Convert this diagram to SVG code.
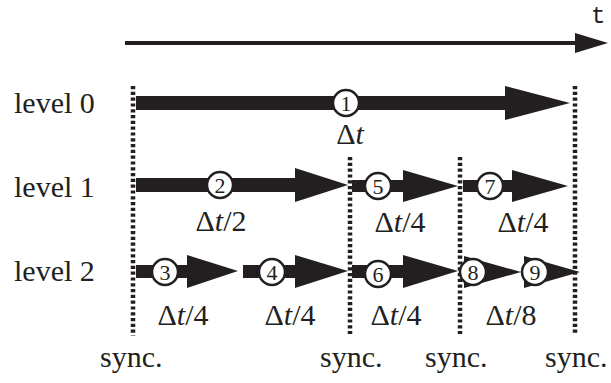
<svg xmlns="http://www.w3.org/2000/svg" width="611" height="383" viewBox="0 0 611 383">
<style>
.lbl{font-family:"Liberation Serif","Times New Roman",serif;font-size:30px;fill:#231f20}
.dt{font-family:"Liberation Serif","Times New Roman",serif;font-size:30px;fill:#231f20;text-anchor:middle}
.it{font-style:italic}
.num{font-family:"Liberation Serif","Times New Roman",serif;font-size:22px;fill:#231f20;text-anchor:middle}
.sync{stroke:#231f20;stroke-width:4.5;stroke-dasharray:3.2 2.6;fill:none}
.ar{fill:#231f20}
.c{fill:#fff;stroke:#231f20;stroke-width:2.5}
</style>
<rect width="611" height="383" fill="#fff"/>
<g id="axis">
<line x1="125" y1="43" x2="580" y2="43" stroke="#231f20" stroke-width="4"/>
<polygon class="ar" points="575,33 608,43 575,53"/>
<text x="591" y="23" style="font-family:'Liberation Mono','Courier New',monospace;font-size:24px;fill:#231f20">t</text>
</g>
<g id="sync-lines">
<line class="sync" x1="133" y1="86" x2="133" y2="336"/>
<line class="sync" x1="575" y1="86" x2="575" y2="334"/>
<line class="sync" x1="350" y1="157" x2="350" y2="334"/>
<line class="sync" x1="460" y1="157" x2="460" y2="334"/>
</g>
<g id="labels">
<text class="lbl" x="14" y="113">level 0</text>
<text class="lbl" x="14" y="197">level 1</text>
<text class="lbl" x="14" y="281">level 2</text>
<text class="lbl" x="100" y="367">sync.</text>
<text class="lbl" x="320" y="367">sync.</text>
<text class="lbl" x="425" y="367">sync.</text>
<text class="lbl" x="545" y="367">sync.</text>
</g>
<g id="connectors">
<polygon class="ar" points="136,96 505,96 505,86 570,103 505,120 505,110 136,110"/>
<polygon class="ar" points="136,178 295,178 295,168 348,185 295,202 295,192 136,192"/>
<polygon class="ar" points="352,180 403,180 403,170 458,186 403,202 403,192 352,192"/>
<polygon class="ar" points="463,180 512,180 512,170 568,186 512,202 512,192 463,192"/>
<polygon class="ar" points="136,265 187,265 187,255 238,271 187,288 187,278 136,278"/>
<polygon class="ar" points="243,265 295,265 295,255 348,271 295,288 295,278 243,278"/>
<polygon class="ar" points="352,265 403,265 403,255 458,271 403,288 403,278 352,278"/>
<polygon class="ar" points="464,256 521,272 464,288"/>
<polygon class="ar" points="524,256 580,272 524,288"/>
</g>
<g id="n1"><circle class="c" cx="346" cy="103" r="13"/><text class="num" x="346" y="111">1</text><text class="dt" x="350" y="144">Δ<tspan class="it">t</tspan></text></g>
<g id="n2"><circle class="c" cx="220" cy="185" r="13"/><text class="num" x="220" y="193">2</text><text class="dt" x="221" y="231">Δ<tspan class="it">t</tspan>/2</text></g>
<g id="n5"><circle class="c" cx="378" cy="186" r="13"/><text class="num" x="378" y="194">5</text><text class="dt" x="400" y="232">Δ<tspan class="it">t</tspan>/4</text></g>
<g id="n7"><circle class="c" cx="490" cy="186" r="13"/><text class="num" x="490" y="194">7</text><text class="dt" x="523" y="232">Δ<tspan class="it">t</tspan>/4</text></g>
<g id="n3"><circle class="c" cx="165" cy="272" r="13"/><text class="num" x="165" y="280">3</text><text class="dt" x="183" y="325">Δ<tspan class="it">t</tspan>/4</text></g>
<g id="n4"><circle class="c" cx="272" cy="272" r="13"/><text class="num" x="272" y="280">4</text><text class="dt" x="290" y="325">Δ<tspan class="it">t</tspan>/4</text></g>
<g id="n6"><circle class="c" cx="378" cy="274" r="13"/><text class="num" x="378" y="282">6</text><text class="dt" x="396" y="325">Δ<tspan class="it">t</tspan>/4</text></g>
<g id="n8"><circle class="c" cx="473" cy="272" r="13"/><text class="num" x="473" y="280">8</text><text class="dt" x="511" y="325">Δ<tspan class="it">t</tspan>/8</text></g>
<g id="n9"><circle class="c" cx="535" cy="272" r="13"/><text class="num" x="535" y="280">9</text></g>
</svg>
